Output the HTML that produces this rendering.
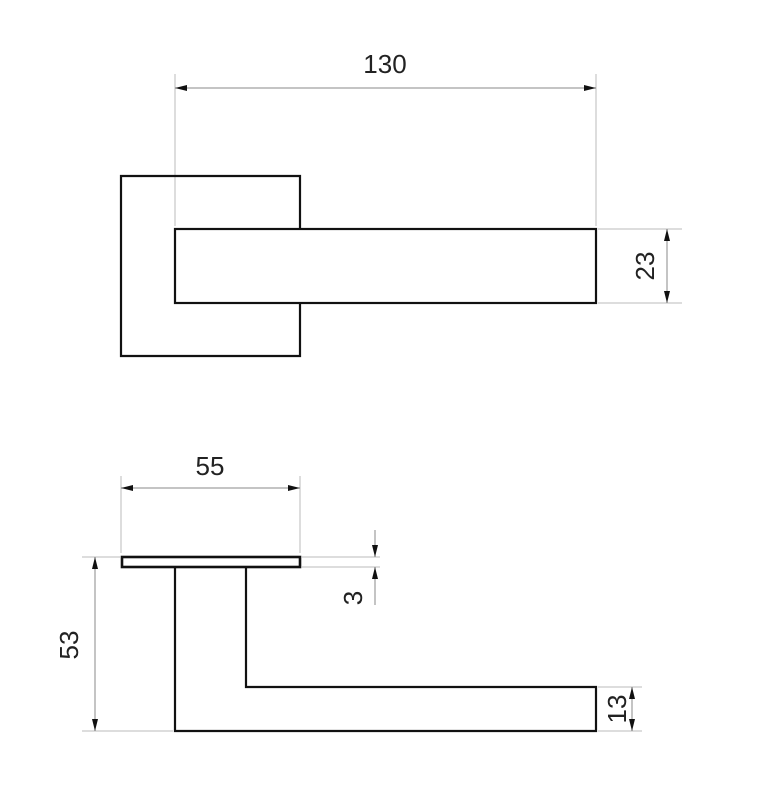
<!DOCTYPE html>
<html><head><style>
html,body{margin:0;padding:0;background:#fff;}
svg{display:block}
text{font-family:"Liberation Sans",sans-serif;fill:#222;}
</style></head><body>
<svg width="762" height="800" viewBox="0 0 762 800" xmlns="http://www.w3.org/2000/svg">
<defs>
<marker id="a" viewBox="0 0 12 6" refX="12" refY="3" markerWidth="12" markerHeight="6" orient="auto-start-reverse" markerUnits="userSpaceOnUse">
<path d="M0,0 L12,3 L0,6 z" fill="#111"/>
</marker>
</defs>
<g stroke="#bbb" stroke-width="1" fill="none">
<!-- top view extensions -->
<line x1="175" y1="74" x2="175" y2="226"/>
<line x1="596" y1="74" x2="596" y2="226"/>
<line x1="598" y1="229" x2="682" y2="229"/>
<line x1="598" y1="303" x2="682" y2="303"/>
<!-- bottom extensions -->
<line x1="121" y1="476" x2="121" y2="553"/>
<line x1="300" y1="476" x2="300" y2="553"/>
<line x1="82" y1="557" x2="120" y2="557"/>
<line x1="82" y1="731" x2="173" y2="731"/>
<line x1="302" y1="557" x2="380" y2="557"/>
<line x1="302" y1="567" x2="380" y2="567"/>
<line x1="598" y1="687" x2="642" y2="687"/>
<line x1="598" y1="731" x2="642" y2="731"/>
</g>
<g stroke="#888" stroke-width="1" fill="none">
<line x1="175" y1="88" x2="596" y2="88" marker-start="url(#a)" marker-end="url(#a)"/>
<line x1="667" y1="229" x2="667" y2="303" marker-start="url(#a)" marker-end="url(#a)"/>
<line x1="121" y1="488" x2="300" y2="488" marker-start="url(#a)" marker-end="url(#a)"/>
<line x1="95" y1="557" x2="95" y2="731" marker-start="url(#a)" marker-end="url(#a)"/>
<line x1="632" y1="687" x2="632" y2="731" marker-start="url(#a)" marker-end="url(#a)"/>
<line x1="375" y1="530" x2="375" y2="557" marker-end="url(#a)"/>
<line x1="375" y1="605" x2="375" y2="567" marker-end="url(#a)"/>
</g>
<g stroke="#111" stroke-width="2.2" fill="none">
<polyline points="300,229 300,176 121,176 121,356 300,356 300,303"/>
<rect x="175" y="229" width="421" height="74"/>
<rect x="122" y="557" width="178" height="10" stroke-width="2.6"/>
<polyline points="175,567 175,731 596,731 596,687 246,687 246,567"/>
</g>
<g font-size="26">
<text x="385" y="73" text-anchor="middle">130</text>
<text x="210" y="475" text-anchor="middle">55</text>
<text transform="translate(654,266) rotate(-90)" text-anchor="middle">23</text>
<text transform="translate(78,645) rotate(-90)" text-anchor="middle">53</text>
<text transform="translate(362,598) rotate(-90)" text-anchor="middle">3</text>
<text transform="translate(626,709) rotate(-90)" text-anchor="middle">13</text>
</g>
</svg>
</body></html>
